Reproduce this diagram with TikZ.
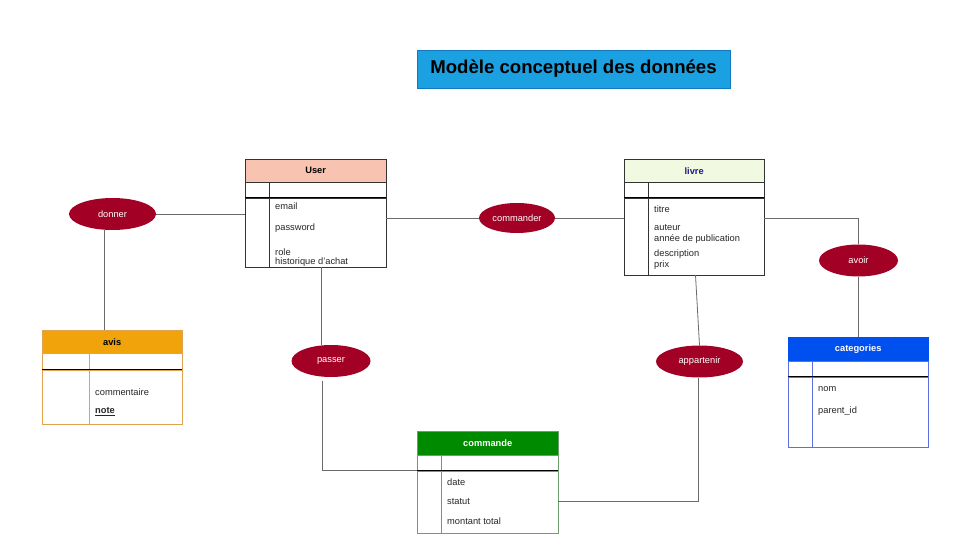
\documentclass[tikz,border=0pt]{standalone}
\usepackage{fontspec}
\setmainfont{Liberation Sans}
\usepackage{xcolor}
\usepackage{tikz}
\usetikzlibrary{shapes.geometric}

\definecolor{saumon}{HTML}{F8C4B1}
\definecolor{vertpale}{HTML}{F1F9E1}
\definecolor{marine}{HTML}{1A1A8C}
\definecolor{orange}{HTML}{F0A30A}
\definecolor{orangebord}{HTML}{E0A24E}
\definecolor{vert}{HTML}{008A00}
\definecolor{vertbord}{HTML}{6E9E6E}
\definecolor{bleu}{HTML}{0050EF}
\definecolor{bleubord}{HTML}{5E6FE0}
\definecolor{bordeaux}{HTML}{A20025}
\definecolor{ciel}{HTML}{1BA1E2}
\definecolor{cielbord}{HTML}{1279BE}
\definecolor{trait}{HTML}{6A6A6A}

\begin{document}
\begin{tikzpicture}[x=1pt, y=-1pt, font=\fontsize{9.3}{11}\selectfont,
	entete/.style={draw, anchor=north west, minimum height=23pt, inner sep=0pt, font=\fontsize{9.3}{11}\selectfont\bfseries},
	cle/.style={draw, anchor=north west, minimum height=15pt, inner sep=0pt},
	corps/.style={draw, anchor=north west, inner sep=0pt},
	sep/.style={draw=black, line width=0.9pt},
	attr/.style={anchor=west, inner sep=0pt, text=black!85},
	assoc/.style={ellipse, fill=bordeaux, text=white, minimum width=87pt, minimum height=32pt, inner sep=0pt},
	lien/.style={draw=trait, line width=0.8pt}]
	\useasboundingbox (0,0) rectangle (975,553);

	\node[draw=cielbord, fill=ciel, minimum width=313pt, minimum height=38pt, inner sep=0pt, font=\fontsize{18.6}{22}\selectfont\bfseries] (titre) at (573.5,69) {Modèle conceptuel des données};

	\node[entete, fill=saumon, draw=black!80, minimum width=141pt] (user) at (245,159) {User};
	\node[cle, draw=black!80, minimum width=141pt] (user-cle) at (user.south west) {};
	\node[corps, draw=black!80, minimum width=141pt, minimum height=69pt] (user-corps) at (user-cle.south west) {};
	\draw[black!80] ([xshift=24pt]user-cle.north west) -- ([xshift=24pt]user-corps.south west);
	\draw[sep] (user-cle.south west) -- (user-cle.south east);
	\node[attr] (email) at (275,206) {email};
	\node[attr] (password) at (275,228) {password};
	\node[attr] (role) at (275,252) {role};
	\node[attr] (historique) at (275,262.5) {historique d'achat};

	\node[entete, fill=vertpale, draw=black!80, text=marine, minimum width=140pt] (livre) at (624,159) {livre};
	\node[cle, draw=black!80, minimum width=140pt] (livre-cle) at (livre.south west) {};
	\node[corps, draw=black!80, minimum width=140pt, minimum height=77pt] (livre-corps) at (livre-cle.south west) {};
	\draw[black!80] ([xshift=24pt]livre-cle.north west) -- ([xshift=24pt]livre-corps.south west);
	\draw[sep] (livre-cle.south west) -- (livre-cle.south east);
	\node[attr] (titrelivre) at (654,209) {titre};
	\node[attr] (auteur) at (654,228) {auteur};
	\node[attr] (annee) at (654,239.5) {année de publication};
	\node[attr] (description) at (654,254) {description};
	\node[attr] (prix) at (654,265.5) {prix};

	\node[entete, fill=orange, draw=orangebord, minimum width=140pt] (avis) at (42,330) {avis};
	\node[cle, draw=orangebord, minimum width=140pt, minimum height=16pt] (avis-cle) at (avis.south west) {};
	\node[corps, draw=orangebord, minimum width=140pt, minimum height=54pt] (avis-corps) at (avis-cle.south west) {};
	\draw[orangebord] ([xshift=47pt]avis-cle.north west) -- ([xshift=47pt]avis-corps.south west);
	\draw[sep] (avis-cle.south west) -- (avis-cle.south east);
	\node[attr] (commentaire) at (95,392) {commentaire};
	\node[attr] (note) at (95,411.5) {\underline{\textbf{note}}};

	\node[entete, fill=vert, draw=vertbord, text=white, minimum width=141pt, minimum height=24pt] (commande) at (417,431) {commande};
	\node[cle, draw=vertbord, minimum width=141pt] (commande-cle) at (commande.south west) {};
	\node[corps, draw=vertbord, minimum width=141pt, minimum height=62pt] (commande-corps) at (commande-cle.south west) {};
	\draw[vertbord] ([xshift=24pt]commande-cle.north west) -- ([xshift=24pt]commande-corps.south west);
	\draw[sep] (commande-cle.south west) -- (commande-cle.south east);
	\node[attr] (date) at (447,482) {date};
	\node[attr] (statut) at (447,501.5) {statut};
	\node[attr] (montant) at (447,521) {montant total};

	\node[entete, fill=bleu, draw=bleu, text=white, minimum width=140pt, minimum height=24pt] (categories) at (788,337) {categories};
	\node[cle, draw=bleubord, minimum width=140pt] (categories-cle) at (categories.south west) {};
	\node[corps, draw=bleubord, minimum width=140pt, minimum height=70pt] (categories-corps) at (categories-cle.south west) {};
	\draw[bleubord] ([xshift=24pt]categories-cle.north west) -- ([xshift=24pt]categories-corps.south west);
	\draw[sep] (categories-cle.south west) -- (categories-cle.south east);
	\node[attr] (nom) at (818,389) {nom};
	\node[attr] (parent) at (818,411.5) {parent\_id};

	\node[assoc] (donner) at (112.5,214) {donner};
	\node[assoc, minimum width=76pt, minimum height=30pt] (commander) at (517,218) {commander};
	\node[assoc, minimum width=79pt] (avoir) at (858.5,260.5) {avoir};
	\node[assoc, minimum width=79pt] (passer) at (331,361) {passer};
	\node[assoc] (appartenir) at (699.5,361.5) {appartenir};

	\coordinate (d-bas) at ([xshift=-8pt]donner.south);
	\coordinate (p-haut) at ([xshift=-10pt]passer.north);
	\coordinate (p-bas) at ([xshift=-8.5pt,yshift=-4pt]passer.south);
	\coordinate (a-haut) at ([xshift=-4pt]appartenir.north);
	\coordinate (a-bas) at ([xshift=-1pt]appartenir.south);

	\draw[lien] (donner) -- (donner -| user-corps.west);
	\draw[lien] (d-bas) -- (d-bas |- avis.north);
	\draw[lien] (commander -| user-corps.east) -- (commander);
	\draw[lien] (commander) -- (commander -| livre-corps.west);
	\draw[lien] (commander -| livre-corps.east) -| (avoir);
	\draw[lien] (avoir) -- (avoir |- categories.north);
	\draw[lien] (p-haut) -- (p-haut |- user-corps.south);
	\draw[lien] (p-bas) |- (commande-cle.south west);
	\draw[lien] (a-haut |- livre-corps.south) -- (appartenir.north);
	\draw[lien] (a-bas) |- (statut -| commande-corps.east);
\end{tikzpicture}
\end{document}
